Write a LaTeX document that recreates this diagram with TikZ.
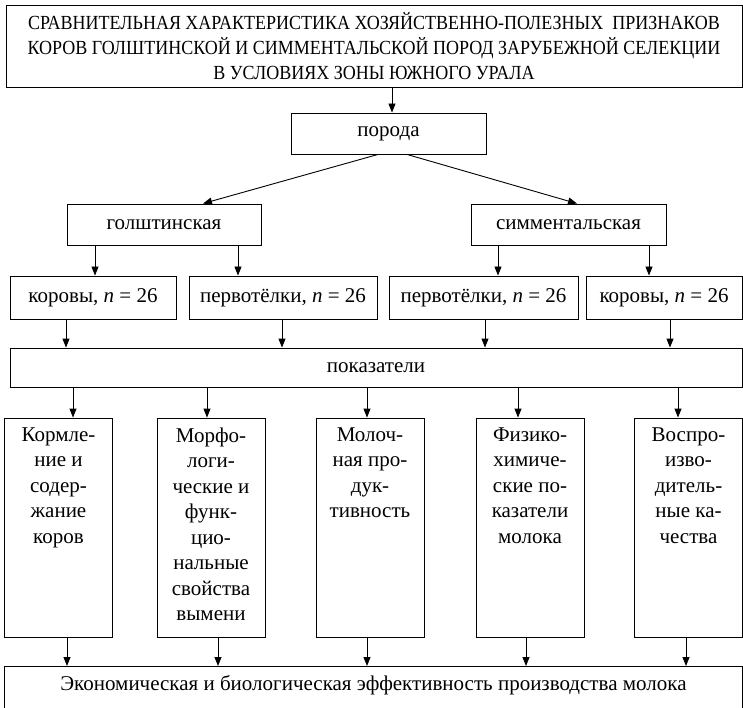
\documentclass[tikz,border=0pt]{standalone}
\usepackage{fontspec}
\setmainfont{Liberation Serif}
\newfontfamily\titlefont[FakeStretch=0.9]{Liberation Serif}
\usetikzlibrary{arrows.meta}

\newcommand{\colbox}[1]{\parbox[c][200pt][t]{104pt}{\centering #1}}

\begin{document}
\begin{tikzpicture}[x=1pt, y=-1pt,
    box/.style={draw, line width=0.9pt, inner sep=0pt, align=center,
                font=\fontsize{21}{25.5}\selectfont},
    arr/.style={line width=0.9pt, -{Triangle[length=9pt, width=7pt]}}]
  \useasboundingbox (0,0) rectangle (743,708);

  \node[box, minimum width=736pt, minimum height=82pt,
        font=\titlefont\fontsize{20}{25}\selectfont] (title) at (374,46)
    {СРАВНИТЕЛЬНАЯ ХАРАКТЕРИСТИКА ХОЗЯЙСТВЕННО-ПОЛЕЗНЫХ\ \ ПРИЗНАКОВ\\
     КОРОВ ГОЛШТИНСКОЙ И СИММЕНТАЛЬСКОЙ ПОРОД ЗАРУБЕЖНОЙ СЕЛЕКЦИИ\\
     В УСЛОВИЯХ ЗОНЫ ЮЖНОГО УРАЛА};
  \node[box, minimum width=195pt, minimum height=41pt] (breed) at (388.5,133.5) {порода};
  \node[box, minimum width=194pt, minimum height=41pt] (holst) at (164,224.5) {голштинская};
  \node[box, minimum width=195pt, minimum height=41pt] (simm) at (568.5,224.5) {симментальская};

  \node[box, minimum width=166pt, minimum height=43pt] (cowsH) at (93,297.5) {коровы, \textit{n}~=~26};
  \node[box, minimum width=188pt, minimum height=43pt] (heifH) at (283,297.5) {первотёлки, \textit{n}~=~26};
  \node[box, minimum width=189pt, minimum height=43pt] (heifS) at (483.5,297.5) {первотёлки, \textit{n}~=~26};
  \node[box, minimum width=156pt, minimum height=43pt] (cowsS) at (664,297.5) {коровы, \textit{n}~=~26};

  \node[box, minimum width=732pt, minimum height=39pt] (traits) at (376,367.5) {показатели};

  \foreach \n/\x/\t in {
      feed/58.5/{Кормле-\\ние и\\содер-\\жание\\коров},
      udder/211/{Морфо-\\логи-\\ческие и\\функ-\\цио-\\нальные\\свойства\\вымени},
      yield/370/{Молоч-\\ная про-\\дук-\\тивность},
      milk/530/{Физико-\\химиче-\\ские по-\\казатели\\молока},
      repro/688.5/{Воспро-\\изво-\\дитель-\\ные ка-\\чества}}{
    \node[box, inner xsep=2pt, inner ysep=9.5pt, minimum width=108pt] (\n) at (\x,527.5) {\colbox{\t}};
  }

  \node[box, anchor=north west, minimum width=738pt, text height=15pt, text depth=45pt,
        inner ysep=9pt] (effect) at (4,666)
    {Экономическая и биологическая эффективность производства молока};

  \draw[arr] (392,0 |- title.south) -- (392,0 |- breed.north);
  \draw[arr] (378,0 |- breed.south) -- (203,0 |- holst.north);
  \draw[arr] (407,0 |- breed.south) -- (577,0 |- simm.north);
  \foreach \x/\a/\b in {95/holst/cowsH, 238/holst/heifH, 498/simm/heifS, 649/simm/cowsS,
      66/cowsH/traits, 282/heifH/traits, 485/heifS/traits, 670/cowsS/traits,
      73/traits/feed, 207/traits/udder, 367/traits/yield, 518/traits/milk, 678/traits/repro,
      67/feed/effect, 218/udder/effect, 367/yield/effect, 526/milk/effect, 686/repro/effect}
    \draw[arr] (\x,0 |- \a.south) -- (\x,0 |- \b.north);
\end{tikzpicture}
\end{document}
